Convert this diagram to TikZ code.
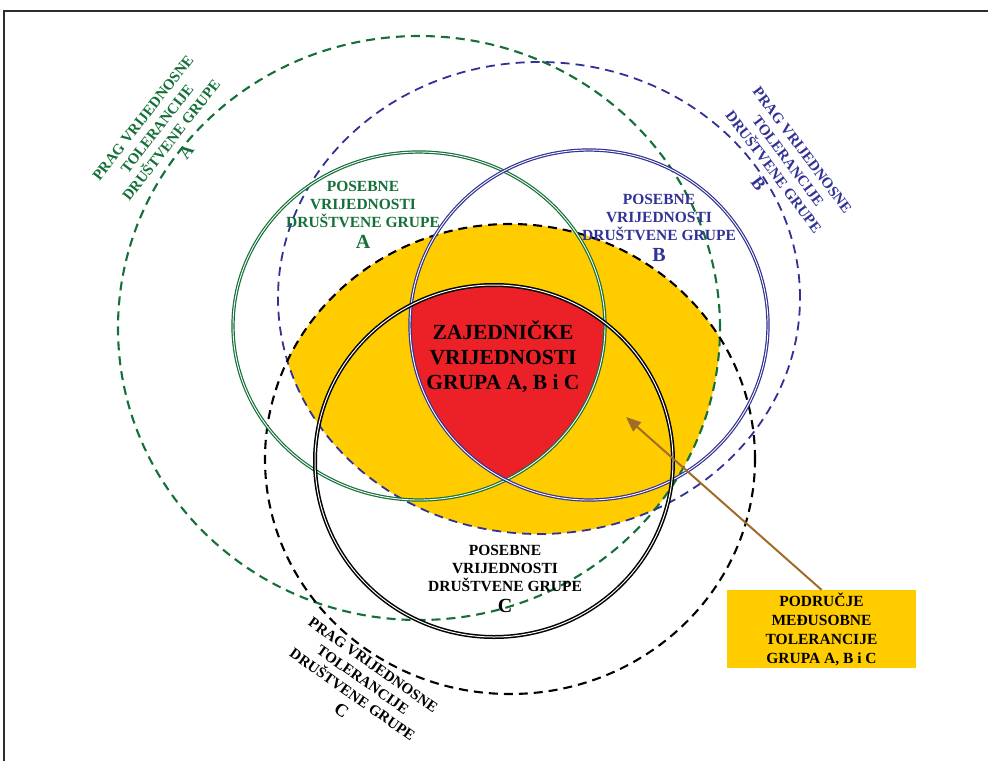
\documentclass[tikz,border=0pt]{standalone}
\usepackage{fontspec}
\setmainfont{Liberation Serif}
\usetikzlibrary{arrows.meta}
\definecolor{grn}{RGB}{20,112,56}
\definecolor{blu}{RGB}{50,50,150}
\definecolor{ylw}{RGB}{255,204,0}
\definecolor{rd}{RGB}{236,32,39}
\definecolor{brn}{RGB}{160,108,40}
\definecolor{frm}{RGB}{45,45,45}
\begin{document}
\begin{tikzpicture}[x=1pt,y=-1pt,
  solidring/.style={line width=1.2pt,double=white,double distance=0.9pt},
  threshold/.style={line width=2.1pt,dash pattern=on 9pt off 6pt},
  lbl/.style={font=\bfseries\fontsize{15.5}{18}\selectfont,align=center,inner sep=0pt},
  tlbl/.style={font=\bfseries\fontsize{15}{18}\selectfont,align=center,inner sep=0pt},
]
\useasboundingbox (0,0) rectangle (988,761);
\fill[white] (0,0) rectangle (988,761);
% ellipses
\def\elA{(419,326) ellipse [x radius=186pt, y radius=174pt]}
\def\elB{(589,325) ellipse [x radius=179pt, y radius=175pt]}
\def\elC{(494,461) ellipse [x radius=179pt, y radius=176pt]}
\def\thA{(419,328) ellipse [x radius=301pt, y radius=292pt]}
\def\thB{(539,298) ellipse [x radius=261pt, y radius=236pt]}
\def\thC{(510,459) ellipse [x radius=245pt, y radius=235pt]}
% frame
\draw[frm,line width=2.5pt] (4,761) -- (4,11) -- (988,11);
% yellow: mutual tolerance
\begin{scope}
  \clip \thA; \clip \thB; \fill[ylw] \thC;
\end{scope}
% red: common values
\begin{scope}
  \clip \elA; \clip \elB; \fill[rd] \elC;
\end{scope}
% threshold ellipses
\draw[threshold,grn] \thA;
\draw[threshold,blu,line width=1.8pt] \thB;
\draw[threshold,black] \thC;
% solid rings
\draw[solidring,grn] \elA;
\draw[solidring,blu] \elB;
\draw[solidring,black,line width=1.5pt,double distance=1pt] \elC;
% labels
\node[lbl,grn] (pa) at (363,215) {POSEBNE\\VRIJEDNOSTI\\DRUŠTVENE GRUPE\\[3pt]{\fontsize{20}{20}\selectfont A}};
\node[lbl,blu] (pb) at (659,228) {POSEBNE\\VRIJEDNOSTI\\DRUŠTVENE GRUPE\\[3pt]{\fontsize{20}{20}\selectfont B}};
\node[lbl,black] (pc) at (505,579) {POSEBNE\\VRIJEDNOSTI\\DRUŠTVENE GRUPE\\[3pt]{\fontsize{20}{20}\selectfont C}};
\node[align=center,inner sep=0pt,font=\bfseries\fontsize{21.5}{25}\selectfont] (common) at (503,357) {ZAJEDNIČKE\\VRIJEDNOSTI\\GRUPA A, B i C};
\node[tlbl,grn,rotate=52] (ta) at (165,135) {PRAG VRIJEDNOSNE\\TOLERANCIJE\\DRUŠTVENE GRUPE\\[2pt]{\fontsize{18}{18}\selectfont A}};
\node[tlbl,blu,rotate=-53] (tb) at (780,167) {PRAG VRIJEDNOSNE\\TOLERANCIJE\\DRUŠTVENE GRUPE\\[2pt]{\fontsize{18}{18}\selectfont B}};
\node[tlbl,black,rotate=-35] (tc) at (357,688) {PRAG VRIJEDNOSNE\\TOLERANCIJE\\DRUŠTVENE GRUPE\\[2pt]{\fontsize{18}{18}\selectfont C}};
% box
\node[fill=ylw,minimum width=189pt,minimum height=78pt,align=center,inner sep=0pt,
      font=\bfseries\fontsize{15.5}{19}\selectfont] (box) at (821.5,629) {PODRUČJE\\MEĐUSOBNE\\TOLERANCIJE\\GRUPA A, B i C};
\coordinate (tip) at (626,417);
\draw[brn,line width=2pt,-{Triangle[length=15pt,width=12pt]}] (box.north) -- (tip);
\end{tikzpicture}
\end{document}
